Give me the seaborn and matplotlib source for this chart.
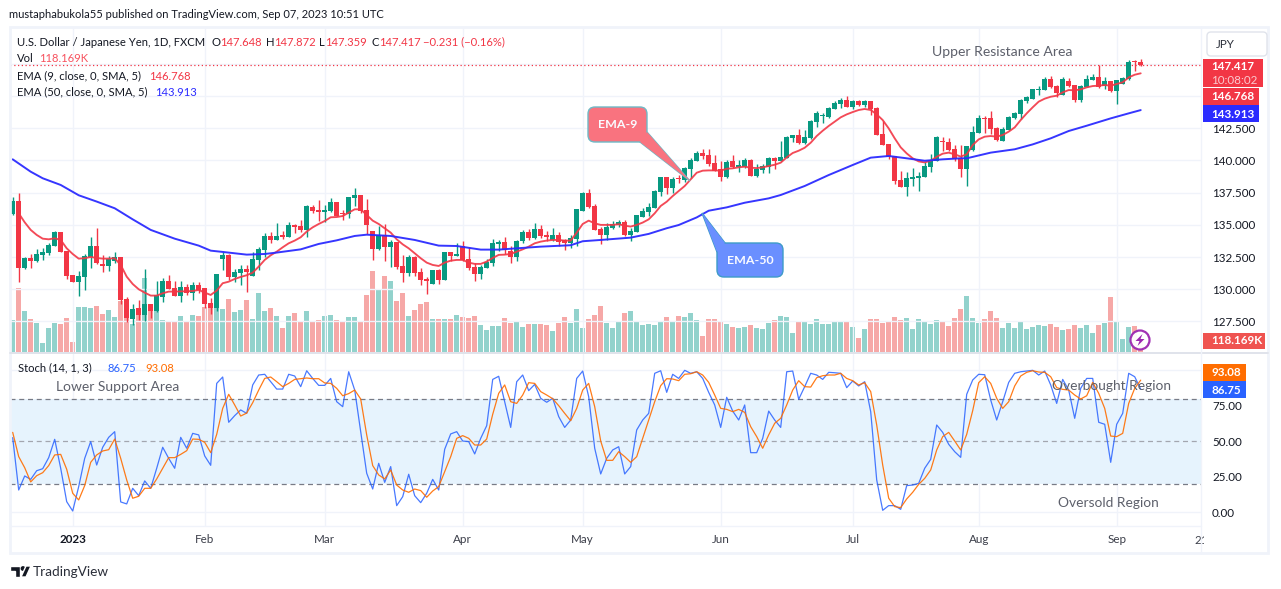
"""USD/JPY daily candles with EMA-9, EMA-50, volume and a stochastic pane."""

import numpy as np
import pandas as pd
import matplotlib
matplotlib.use('Agg')
import matplotlib.pyplot as plt
from matplotlib.patches import Circle, FancyBboxPatch, Polygon, Rectangle
import seaborn as sns

# OHLC, one value per daily bar
open_ = [
    135.87, 136.86, 131.68, 132.43, 132.22, 132.67, 132.82, 133.36, 134.45, 132.98,
    131.11, 130.57, 130.96, 132.54, 133.36, 131.97, 131.81, 132.20, 132.51, 129.25,
    127.70, 128.52, 128.01, 128.86, 128.32, 129.40, 130.65, 130.10, 129.48, 130.18,
    129.71, 130.34, 130.10, 128.94, 128.55, 132.35, 132.67, 130.96, 131.27, 131.58,
    131.03, 132.28, 133.05, 134.14, 133.83, 134.22, 134.06, 135.00, 134.92, 134.61,
    136.39, 136.16, 136.00, 136.08, 136.78, 135.93, 135.85, 137.09, 137.32, 136.16,
    134.53, 133.13, 134.22, 133.29, 133.67, 131.81, 131.27, 132.51, 131.35, 130.80,
    130.41, 131.50, 130.72, 132.90, 132.59, 133.36, 132.35, 131.73, 131.19, 131.66,
    132.04, 133.52, 133.67, 132.98, 132.51, 133.75, 134.45, 133.98, 134.68, 134.22,
    133.83, 134.22, 133.83, 133.60, 133.91, 136.08, 137.48, 136.47, 134.69, 134.22,
    134.76, 135.00, 135.23, 134.22, 134.45, 135.62, 136.00, 136.31, 137.56, 138.72,
    137.86, 138.64, 138.48, 139.34, 139.96, 140.58, 140.42, 139.80, 139.34, 138.72,
    139.96, 139.49, 139.49, 140.04, 138.79, 139.26, 139.49, 140.19, 139.96, 140.19,
    141.74, 141.98, 141.36, 141.74, 142.99, 143.45, 143.37, 144.00, 144.38, 144.69,
    144.15, 144.62, 144.31, 144.62, 144.07, 142.06, 141.28, 140.35, 138.48, 137.94,
    138.56, 138.64, 138.72, 139.49, 139.96, 141.51, 141.43, 140.86, 140.19, 139.34,
    140.81, 142.13, 143.30, 143.30, 142.52, 141.51, 142.37, 143.30, 143.61, 144.62,
    144.77, 145.47, 145.47, 146.33, 145.78, 145.08, 146.17, 145.86, 144.70, 145.70,
    146.25, 146.48, 145.78, 146.17, 145.39, 145.94, 146.33, 147.65, 147.648,
]
high = [
    137.17, 137.45, 132.48, 132.74, 133.13, 133.21, 133.60, 134.53, 134.45, 132.98,
    131.11, 131.42, 132.74, 134.06, 134.76, 132.67, 132.59, 132.90, 132.51, 129.40,
    128.86, 129.17, 131.58, 128.86, 130.65, 130.88, 131.11, 130.65, 130.65, 130.41,
    130.57, 130.57, 130.10, 129.33, 131.19, 132.90, 132.74, 131.58, 131.89, 131.89,
    132.90, 133.29, 134.37, 134.45, 135.15, 134.53, 135.23, 135.07, 135.38, 136.55,
    136.55, 136.93, 136.55, 137.09, 136.78, 136.16, 137.17, 137.87, 137.32, 137.01,
    134.53, 134.92, 135.07, 133.83, 133.67, 132.67, 132.67, 132.59, 131.66, 130.96,
    131.50, 131.58, 132.90, 132.90, 133.60, 133.75, 133.29, 132.04, 131.89, 132.35,
    133.91, 133.83, 134.06, 133.36, 133.83, 134.61, 134.68, 135.15, 134.99, 134.53,
    134.76, 134.45, 133.91, 134.22, 136.24, 137.56, 137.79, 136.62, 134.84, 135.15,
    135.30, 135.38, 135.38, 134.76, 135.77, 136.31, 136.70, 137.71, 138.72, 138.72,
    138.72, 138.87, 139.49, 140.19, 140.73, 140.89, 140.89, 140.42, 139.96, 140.04,
    140.42, 140.04, 140.19, 140.11, 139.73, 139.73, 140.27, 140.27, 141.51, 141.90,
    141.98, 142.44, 142.37, 143.14, 143.84, 143.69, 144.15, 144.62, 144.85, 145.00,
    144.69, 144.69, 144.69, 144.62, 144.15, 143.06, 141.28, 140.35, 139.18, 139.10,
    139.41, 139.10, 139.88, 140.50, 141.90, 141.82, 141.74, 141.20, 141.20, 141.12,
    142.68, 143.53, 143.45, 143.84, 142.60, 142.60, 143.45, 143.76, 144.77, 145.01,
    145.55, 145.78, 146.48, 146.56, 145.86, 146.48, 146.40, 145.86, 145.86, 146.64,
    146.71, 147.41, 146.48, 146.17, 146.25, 146.48, 147.80, 147.80, 147.872,
]
low = [
    135.80, 130.59, 131.55, 131.66, 132.12, 132.28, 132.67, 133.36, 132.90, 130.80,
    130.57, 129.48, 129.95, 131.66, 131.97, 131.35, 131.42, 132.04, 128.86, 127.46,
    127.23, 127.62, 127.54, 127.77, 128.24, 129.02, 130.03, 129.48, 129.02, 129.56,
    129.17, 129.71, 128.55, 128.09, 128.32, 131.50, 130.72, 130.57, 130.34, 129.79,
    131.03, 131.50, 132.51, 133.60, 133.83, 133.91, 134.06, 134.37, 134.45, 134.06,
    135.93, 135.30, 135.23, 136.00, 135.69, 135.38, 135.54, 136.47, 135.93, 134.30,
    132.28, 133.05, 132.20, 131.73, 131.58, 130.57, 131.03, 131.03, 130.34, 129.64,
    130.41, 130.41, 130.72, 132.20, 132.59, 132.20, 131.50, 130.65, 130.80, 131.66,
    131.81, 132.98, 132.74, 132.04, 132.20, 133.60, 133.83, 133.91, 133.98, 133.75,
    133.75, 133.36, 133.05, 133.21, 133.36, 136.08, 136.32, 134.61, 133.52, 133.83,
    134.68, 134.84, 134.14, 133.75, 134.45, 135.62, 135.69, 136.31, 137.25, 137.40,
    137.47, 138.25, 138.33, 138.64, 139.96, 140.11, 139.57, 139.18, 138.41, 138.64,
    139.41, 139.10, 139.41, 138.79, 138.72, 139.03, 139.03, 139.34, 139.96, 140.19,
    141.43, 141.28, 141.28, 141.67, 142.60, 142.91, 143.30, 144.00, 144.07, 144.15,
    144.00, 144.23, 144.15, 143.53, 141.98, 141.20, 140.11, 138.17, 137.94, 137.24,
    138.02, 137.63, 138.72, 139.10, 139.96, 140.73, 140.73, 139.98, 138.72, 138.02,
    140.74, 142.13, 142.13, 142.06, 141.51, 141.51, 142.37, 143.22, 143.22, 144.46,
    144.77, 145.08, 145.47, 145.63, 144.93, 145.08, 145.70, 144.54, 144.54, 145.70,
    146.25, 145.63, 145.55, 145.32, 144.38, 145.94, 146.25, 146.95, 147.359,
]
close = [
    136.86, 131.68, 132.43, 132.22, 132.74, 132.90, 133.44, 134.45, 132.90, 131.03,
    130.57, 131.03, 132.59, 133.36, 132.04, 131.81, 132.35, 132.51, 129.17, 127.77,
    128.47, 128.01, 128.86, 128.32, 129.56, 130.65, 130.03, 129.48, 130.18, 129.71,
    130.34, 129.95, 128.86, 128.55, 131.19, 132.67, 130.96, 131.35, 131.58, 131.35,
    132.35, 133.13, 134.14, 133.83, 134.14, 134.06, 135.00, 134.84, 134.61, 136.47,
    136.08, 136.00, 136.16, 136.78, 135.69, 135.85, 137.17, 137.32, 136.08, 135.00,
    133.13, 134.22, 133.29, 133.67, 131.73, 131.27, 132.51, 131.27, 130.72, 130.65,
    131.50, 130.72, 132.90, 132.59, 132.74, 132.28, 131.66, 131.19, 131.73, 132.12,
    133.60, 133.67, 133.05, 132.51, 133.75, 134.45, 133.98, 134.68, 134.14, 134.06,
    134.22, 133.67, 133.60, 133.98, 136.24, 137.48, 136.39, 134.61, 134.22, 134.84,
    135.07, 135.23, 134.22, 134.53, 135.77, 136.08, 136.39, 137.63, 138.72, 137.87,
    138.56, 138.56, 139.41, 140.04, 140.58, 140.35, 139.73, 139.18, 138.72, 139.88,
    139.49, 139.65, 140.04, 138.79, 139.34, 139.57, 140.19, 139.96, 140.27, 141.82,
    141.98, 141.36, 141.82, 143.06, 143.69, 143.53, 144.07, 144.46, 144.69, 144.15,
    144.62, 144.31, 144.62, 144.00, 141.98, 141.20, 140.27, 138.41, 137.94, 138.64,
    138.72, 138.79, 139.57, 140.04, 141.82, 141.43, 140.81, 140.14, 139.34, 141.12,
    142.21, 143.30, 143.22, 142.44, 141.59, 142.44, 143.37, 143.69, 144.70, 144.93,
    145.55, 145.55, 146.33, 145.70, 145.24, 146.33, 145.78, 144.70, 145.78, 146.33,
    146.48, 145.70, 146.17, 145.39, 146.25, 146.40, 147.65, 147.62, 147.417,
]
# the volume scale is hidden, these only keep the relative bar heights
volume = [
    147, 294, 189, 152, 133, 41, 110, 133, 129, 156,
    46, 207, 207, 202, 212, 175, 193, 161, 235, 163,
    129, 175, 340, 193, 189, 147, 143, 143, 166, 143,
    170, 166, 207, 207, 202, 198, 244, 184, 193, 239,
    152, 271, 189, 202, 166, 110, 166, 179, 138, 189,
    143, 147, 166, 170, 147, 138, 161, 161, 138, 262,
    373, 290, 350, 327, 235, 271, 166, 193, 221, 230,
    152, 152, 152, 152, 170, 161, 156, 166, 124, 101,
    120, 120, 156, 133, 143, 115, 129, 129, 129, 124,
    97, 133, 161, 133, 198, 110, 152, 170, 212, 133,
    110, 143, 179, 189, 138, 124, 129, 124, 138, 161,
    136, 164, 159, 178, 146, 72, 150, 150, 141, 127,
    113, 109, 113, 123, 109, 104, 132, 146, 164, 159,
    86, 141, 141, 127, 150, 127, 127, 141, 141, 141,
    113, 63, 104, 150, 150, 132, 136, 159, 146, 155,
    104, 150, 136, 127, 146, 136, 118, 155, 198, 258,
    156, 133, 152, 189, 156, 110, 133, 110, 138, 106,
    115, 124, 120, 129, 115, 101, 106, 124, 110, 124,
    87, 124, 133, 253, 143, 60, 115, 120, 48,
]
# EMA-9 starts one bar after the first candle
ema9 = [
    135.90, 135.20, 134.61, 134.22, 133.93, 133.88, 133.96, 133.83, 133.18, 132.74,
    132.38, 132.41, 132.51, 132.43, 132.38, 132.38, 132.41, 131.89, 130.98, 130.41,
    130.00, 129.74, 129.51, 129.51, 129.69, 129.82, 129.82, 129.84, 129.84, 129.87,
    129.95, 129.74, 129.56, 129.90, 130.47, 130.59, 130.80, 130.96, 131.09, 131.29,
    131.76, 132.28, 132.64, 132.92, 133.26, 133.57, 133.78, 134.04, 134.48, 134.81,
    135.07, 135.30, 135.59, 135.61, 135.69, 135.95, 136.21, 136.21, 135.77, 135.33,
    135.07, 134.73, 134.40, 133.88, 133.49, 133.18, 132.79, 132.41, 132.07, 131.89,
    131.81, 132.07, 132.22, 132.28, 132.28, 132.07, 131.97, 131.97, 132.15, 132.43,
    132.67, 132.69, 132.74, 132.92, 133.10, 133.31, 133.57, 133.70, 133.78, 133.83,
    133.83, 133.78, 133.78, 134.40, 135.07, 135.33, 135.12, 135.00, 135.00, 135.00,
    135.05, 134.94, 134.87, 135.00, 135.18, 135.43, 135.90, 136.47, 136.80, 137.24,
    137.63, 138.02, 138.54, 139.05, 139.21, 139.23, 139.23, 139.21, 139.36, 139.39,
    139.47, 139.52, 139.44, 139.41, 139.47, 139.57, 139.67, 139.83, 140.24, 140.58,
    140.76, 140.99, 141.38, 141.90, 142.31, 142.68, 143.01, 143.35, 143.58, 143.76,
    143.92, 144.00, 143.92, 143.58, 143.14, 142.49, 141.72, 141.02, 140.55, 140.17,
    139.93, 139.85, 139.98, 140.29, 140.53, 140.61, 140.48, 140.30, 140.48, 141.20,
    141.64, 141.85, 141.90, 141.85, 141.98, 142.24, 142.57, 143.14, 143.66, 144.13,
    144.57, 144.80, 144.95, 145.03, 145.29, 145.47, 145.45, 145.52, 145.68, 145.78,
    145.81, 145.86, 145.81, 145.94, 146.07, 146.45, 146.66, 146.768,
]
# EMA-50 is smooth enough to read at these bars only
ema50_bars = [
    0, 3, 5, 8, 11, 14, 17, 20, 23, 27, 31, 33, 35, 39, 42, 44, 48, 51, 54,
    57, 59, 63, 67, 71, 74, 78, 81, 84, 88, 93, 95, 98, 103, 106, 109,
    111, 114, 116, 119, 122, 126, 128, 132, 136, 140, 143, 146, 149, 152, 155, 158,
    159, 163, 167, 170, 173, 176, 179, 183, 186, 188,
]
ema50 = [
    140.09, 139.13, 138.62, 138.10, 137.30, 136.81, 136.29, 135.43, 134.61, 133.93,
    133.39, 133.00, 132.90, 132.69, 132.74, 132.85, 133.10, 133.52, 133.80,
    134.14, 134.24, 134.14, 133.83, 133.39, 133.36, 133.08, 133.08, 133.18, 133.31,
    133.42, 133.73, 133.83, 134.01, 134.30, 134.74,
    134.99, 135.58, 136.10, 136.36, 136.72, 137.06, 137.32, 138.02, 138.87, 139.65,
    140.22, 140.35, 140.17, 139.98, 140.09, 140.17,
    140.17, 140.61, 140.87, 141.25, 141.72, 142.29, 142.70, 143.27, 143.66, 143.913,
]
stoch_k = [
    52.6, 15.7, 25.6, 23.2, 29.3, 30.7, 38.5, 51.4, 31.0, 7.5,
    0.9, 18.1, 38.0, 49.8, 33.3, 45.8, 52.8, 56.8, 7.3, 5.9,
    16.9, 11.7, 22.1, 16.9, 31.0, 45.8, 38.0, 31.0, 52.8, 45.1,
    55.6, 54.5, 39.7, 33.1, 90.8, 95.3, 63.4, 68.1, 72.1, 69.7,
    89.7, 96.7, 97.2, 92.0, 86.8, 86.8, 97.2, 96.0, 88.5, 99.7,
    94.3, 89.4, 89.4, 94.3, 77.9, 74.4, 99.0, 86.1, 56.8, 27.5,
    16.4, 34.5, 21.1, 32.2, 4.7, 11.0, 26.8, 11.7, 6.8, 13.4,
    23.2, 15.7, 44.4, 55.2, 56.8, 50.2, 49.8, 41.1, 52.1, 61.0,
    93.6, 95.8, 77.9, 59.8, 92.0, 96.7, 85.7, 90.1, 80.3, 77.5,
    80.3, 67.4, 59.8, 65.0, 94.3, 99.5, 81.4, 45.1, 27.0, 38.0,
    43.9, 46.2, 27.0, 32.2, 58.0, 65.0, 69.7, 97.9, 99.7, 84.5,
    97.2, 94.3, 100.0, 97.9, 99.0, 94.3, 84.5, 75.6, 59.8, 81.0,
    71.3, 65.0, 75.6, 42.0, 42.0, 52.1, 71.3, 65.0, 59.8, 99.0,
    99.5, 79.6, 88.5, 97.9, 96.7, 93.6, 98.6, 98.3, 97.9, 87.8,
    92.5, 89.0, 92.0, 70.9, 22.8, 1.4, 4.7, 4.7, 2.1, 18.8,
    19.2, 20.4, 31.0, 37.3, 61.5, 56.3, 47.9, 42.7, 38.7, 83.1,
    93.2, 97.2, 96.9, 79.1, 65.0, 77.9, 91.5, 97.9, 99.0, 99.5,
    100.0, 96.7, 99.5, 89.7, 76.7, 93.6, 86.1, 66.2, 87.3, 94.3,
    94.3, 63.4, 62.0, 35.2, 62.0, 69.7, 97.9, 95.5, 86.75,
]
stoch_d = [
    56.3, 39.2, 31.4, 21.4, 25.8, 27.9, 32.9, 40.4, 40.8, 30.3,
    13.4, 8.7, 18.8, 35.2, 40.4, 43.2, 44.1, 51.6, 38.0, 22.8,
    9.9, 11.3, 16.9, 16.9, 23.5, 31.0, 38.5, 38.5, 40.8, 43.4,
    51.6, 51.4, 49.3, 42.0, 54.9, 73.2, 83.1, 75.6, 67.8, 69.9,
    77.2, 86.1, 94.3, 95.3, 92.0, 88.5, 90.8, 93.6, 94.1, 94.6,
    94.1, 94.1, 91.1, 90.8, 87.3, 82.1, 83.6, 86.1, 79.8, 54.5,
    32.9, 26.3, 23.5, 29.8, 19.2, 15.7, 14.1, 16.4, 15.3, 10.6,
    15.0, 18.1, 28.6, 39.2, 52.1, 54.0, 52.1, 47.4, 47.4, 51.6,
    69.0, 83.8, 89.7, 77.9, 76.7, 82.6, 91.3, 90.8, 85.0, 82.6,
    80.0, 75.1, 69.7, 64.5, 73.2, 86.1, 90.8, 74.4, 50.2, 36.6,
    36.6, 42.7, 39.2, 35.2, 39.2, 52.1, 65.0, 77.9, 89.2, 94.1,
    93.9, 92.7, 97.2, 97.6, 99.0, 96.7, 91.5, 82.6, 73.2, 72.5,
    70.9, 72.5, 70.4, 60.3, 53.3, 45.1, 54.5, 62.7, 66.2, 75.6,
    86.1, 92.7, 88.5, 88.2, 94.8, 96.2, 96.7, 96.7, 97.9, 94.3,
    92.7, 89.7, 91.3, 85.0, 61.5, 33.3, 9.9, 4.0, 3.3, 9.4,
    14.1, 19.7, 23.9, 29.8, 43.9, 53.3, 56.3, 50.2, 43.9, 54.9,
    71.6, 91.3, 95.5, 90.8, 80.3, 73.2, 77.9, 89.0, 96.0, 98.6,
    99.7, 98.8, 98.6, 95.5, 87.8, 86.6, 86.1, 82.6, 79.8, 82.1,
    91.5, 83.8, 73.2, 53.7, 53.3, 55.6, 76.7, 87.3, 93.08,
]
# month starts as bar numbers, and their labels
month_bars = [10, 32, 52, 75, 95, 118, 140, 161, 184]
month_labels = ['2023', 'Feb', 'Mar', 'Apr', 'May', 'Jun', 'Jul', 'Aug', 'Sep']
price_ticks = [127.5, 130, 132.5, 135, 137.5, 140, 142.5, 145, 147.5]
stoch_ticks = [0, 25, 50, 75, 100]

UP = '#089981'
DOWN = '#F23645'
GRID = '#F0F3FA'
TEXT = '#131722'
NOTE = '#5D606B'
W, H = 1281, 589
TICK_SIZE = 8.4

sns.set_theme(style='white')
plt.rcParams['font.family'] = ['Lato', 'DejaVu Sans']

fig = plt.figure(figsize=(W / 100, H / 100), dpi=100, facecolor='white')


def add_pane(left, top, right, bottom, zorder):
    ax = fig.add_axes([left / W, 1 - bottom / H, (right - left) / W, (bottom - top) / H], zorder=zorder)
    ax.set_xlim(-0.45, 198.05)
    for spine in ax.spines.values():
        spine.set_visible(False)
    return ax


bars = np.arange(len(close))
df = pd.DataFrame({'bar': bars, 'open': open_, 'high': high, 'low': low, 'close': close, 'volume': volume})
df['side'] = np.where(df['close'] < df['open'], 'down', 'up')

# volume sits behind the candles on its own hidden scale
ax_vol = add_pane(10, 27, 1201, 352, 1)
sns.barplot(data=df, x='bar', y='volume', hue='side', palette={'up': '#26A69A', 'down': '#EF5350'},
            native_scale=True, dodge=False, width=0.83, alpha=0.5, saturation=1, linewidth=0,
            legend=False, errorbar=None, ax=ax_vol)
ax_vol.set_xlim(-0.45, 198.05)
ax_vol.set_ylim(0, 1494)
ax_vol.set_xlabel('')
ax_vol.set_ylabel('')
ax_vol.set_xticks([])
ax_vol.set_yticks([])

# price pane
ax = add_pane(10, 27, 1201, 352, 2)
ax.patch.set_visible(False)
ax.set_ylim(125.13, 150.365)
colors = np.where(df['side'] == 'up', UP, DOWN)
ax.vlines(df['bar'], df['low'], df['high'], colors=colors, linewidth=1.0, zorder=3)
ax.bar(df['bar'], np.maximum((df['close'] - df['open']).abs(), 0.08), bottom=df[['open', 'close']].min(axis=1),
       width=0.8, color=colors, linewidth=0, zorder=4)
sns.lineplot(x=np.arange(1, len(ema9) + 1), y=ema9, color='#F23645', linewidth=1.35, alpha=0.9,
             errorbar=None, estimator=None, zorder=5, ax=ax)
sns.lineplot(x=ema50_bars, y=ema50, color='#2B2BFF', linewidth=1.4, alpha=0.95,
             errorbar=None, estimator=None, zorder=5, ax=ax)
ax.axhline(close[-1], color=DOWN, linestyle=(0, (1, 2)), linewidth=0.9, zorder=2)
ax.set_xticks(month_bars)
ax.set_xticklabels([])
ax.set_yticks(price_ticks)
ax.set_yticklabels([f'{t:.3f}' for t in price_ticks], fontsize=TICK_SIZE, color=TEXT)
ax.yaxis.tick_right()
ax.tick_params(length=0, pad=8)
ax.grid(True, color=GRID, linewidth=1)
ax.set_axisbelow(True)
ax.set_xlabel('')
ax.set_ylabel('')

# stochastic pane
ax_st = add_pane(10, 354, 1201, 526, 2)
ax_st.set_ylim(-9.65, 111.5)
ax_st.axhspan(20, 80, color='#E6F3FD', linewidth=0, zorder=1)
ax_st.axhline(80, color='#787B86', linestyle=(0, (4, 3)), linewidth=0.9, zorder=2)
ax_st.axhline(50, color='#A3A6AF', linestyle=(0, (4, 3)), linewidth=0.9, zorder=2)
ax_st.axhline(20, color='#787B86', linestyle=(0, (4, 3)), linewidth=0.9, zorder=2)
sns.lineplot(x=bars, y=stoch_k, color='#2962FF', linewidth=0.9, alpha=0.85, errorbar=None, estimator=None,
             zorder=3, ax=ax_st)
sns.lineplot(x=bars, y=stoch_d, color='#FF6D00', linewidth=0.9, alpha=0.9, errorbar=None, estimator=None,
             zorder=4, ax=ax_st)
ax_st.set_xticks(month_bars)
ax_st.set_xticklabels(month_labels, fontsize=TICK_SIZE, color='#3C3F4A')
ax_st.get_xticklabels()[0].set_fontweight('bold')
ax_st.get_xticklabels()[0].set_color(TEXT)
ax_st.set_yticks(stoch_ticks)
ax_st.set_yticklabels(['0.00', '25.00', '50.00', '75.00', ''], fontsize=TICK_SIZE, color=TEXT)
ax_st.yaxis.tick_right()
ax_st.tick_params(axis='y', length=0, pad=8)
ax_st.tick_params(axis='x', length=0, pad=6)
ax_st.grid(True, color=GRID, linewidth=1)
ax_st.set_axisbelow(True)
ax_st.set_xlabel('')
ax_st.set_ylabel('')

# everything drawn in picture pixels goes on a transparent overlay
ov = fig.add_axes([0, 0, 1, 1], zorder=10)
ov.set_xlim(0, W)
ov.set_ylim(H, 0)
ov.axis('off')


def label(x, y, s, color=TEXT, size=8.15, ha='left', **kw):
    ov.text(x, y, s, color=color, fontsize=size, ha=ha, va='center', **kw)


def tag(x0, y0, x1, y1, color):
    ov.add_patch(Rectangle((x0, y0), x1 - x0, y1 - y0, facecolor=color, edgecolor='none', zorder=3))


def callout(x0, y0, x1, y1, pointer, fill, edge, text):
    ov.add_patch(Polygon(pointer, closed=True, facecolor=fill, edgecolor=edge, linewidth=1, zorder=2))
    ov.add_patch(FancyBboxPatch((x0 + 7, y0 + 7), x1 - x0 - 14, y1 - y0 - 14, boxstyle='round,pad=7,rounding_size=7',
                                facecolor=fill, edgecolor=edge, linewidth=1, zorder=3))
    ov.add_patch(Polygon(pointer, closed=True, facecolor=fill, edgecolor='none', zorder=4))
    label((x0 + x1) / 2, (y0 + y1) / 2, text, color='#FAFBFF', size=8.9, ha='center', fontweight='bold', zorder=5)


# frame and pane separators
ov.add_patch(Rectangle((10, 26.5), 1258, 526.5, facecolor='none', edgecolor=GRID, linewidth=2))
ov.plot([10, 1268], [353, 353], color='#E0E3EB', linewidth=1.4)
ov.plot([10, 1201], [526, 526], color=GRID, linewidth=1)
ov.plot([1201, 1201], [27, 553], color=GRID, linewidth=1)
label(1194, 540, '21', color='#3C3F4A', size=TICK_SIZE, zorder=1)
ov.add_patch(Rectangle((1204, 530), 30, 20, facecolor='white', edgecolor='none', zorder=2))

# header and legend
label(9, 15, 'mustaphabukola55 published on TradingView.com, Sep 07, 2023 10:51 UTC', size=8.0)
label(17, 42, 'U.S. Dollar / Japanese Yen, 1D, FXCM')
for x, name, value in [(212, 'O', '147.648'), (266, 'H', '147.872'), (319, 'L', '147.359'), (371, 'C', '147.417')]:
    label(x, 42, name)
    label(x + (6 if name == 'L' else 8), 42, value, color=DOWN)
label(423, 42, '\u22120.231 (\u22120.16%)', color=DOWN)
label(17, 59, 'Vol')
label(39, 59, '118.169K', color='#F7525F')
label(17, 76, 'EMA (9, close, 0, SMA, 5)')
label(149, 76, '146.768', color=DOWN)
label(17, 92, 'EMA (50, close, 0, SMA, 5)')
label(155, 92, '143.913', color='#2B2BFF')
label(18, 368, 'Stoch (14, 1, 3)')
label(108, 368, '86.75', color='#2962FF')
label(145, 368, '93.08', color='#FF6D00')

# notes written on the chart
label(932, 52, 'Upper Resistance Area', color=NOTE, size=10.1)
label(56, 387, 'Lower Support Area', color=NOTE, size=10.0)
label(1052, 386, 'Overbought Region', color=NOTE, size=9.9)
label(1058, 503, 'Oversold Region', color=NOTE, size=9.9)

# callouts pointing at the two averages
callout(588, 107, 647, 142, [(640, 142), (647, 132), (690, 181)], '#F9737F', '#6FB9C6', 'EMA-9')
callout(717, 243, 783, 277, [(717, 252), (725, 243), (702, 213)], '#6A8FFF', '#3D9BC8', 'EMA-50')

# price axis tags
ov.add_patch(FancyBboxPatch((1209, 34), 56, 20, boxstyle='round,pad=2,rounding_size=4', facecolor='white',
                            edgecolor='#E0E3EB', linewidth=1))
label(1216, 44, 'JPY', color='#2A2E39', size=TICK_SIZE)
tag(1203, 59, 1263, 87, DOWN)
label(1211, 66, '147.417', color='white', size=TICK_SIZE, fontweight='bold', zorder=4)
label(1211, 80, '10:08:02', color='#FBC9CE', size=TICK_SIZE, zorder=4)
tag(1203, 88, 1259, 105, DOWN)
label(1211, 97, '146.768', color='white', size=TICK_SIZE, fontweight='bold', zorder=4)
tag(1203, 105, 1259, 122, '#2B2BFF')
label(1211, 114, '143.913', color='white', size=TICK_SIZE, fontweight='bold', zorder=4)
tag(1203, 333, 1265, 349, '#EF5350')
label(1211, 341, '118.169K', color='white', size=TICK_SIZE, fontweight='bold', zorder=4)
tag(1203, 364, 1246, 381, '#FF6D00')
label(1211, 372, '93.08', color='white', size=TICK_SIZE, fontweight='bold', zorder=4)
tag(1203, 381, 1246, 398, '#2962FF')
label(1211, 390, '86.75', color='white', size=TICK_SIZE, fontweight='bold', zorder=4)

# lightning badge over the last volume bars
ov.add_patch(Circle((1140, 340), 9.5, facecolor='white', edgecolor='#9C27B0', linewidth=1.6, alpha=0.95, zorder=3))
ov.add_patch(Polygon([(1142.5, 334), (1135.5, 341), (1139.5, 341), (1137.5, 346), (1144.5, 339), (1140.5, 339)],
                     closed=True, facecolor='#9C27B0', edgecolor='none', zorder=4))

# TradingView mark under the chart
ov.add_patch(Polygon([(10, 566), (20, 566), (20, 577), (15, 577), (15, 571), (10, 571)], closed=True, facecolor=TEXT))
ov.add_patch(Circle((23, 568.5), 2.4, facecolor=TEXT, edgecolor='none'))
ov.add_patch(Polygon([(26, 566), (31, 566), (26, 577), (21, 577)], closed=True, facecolor=TEXT))
label(33, 572, 'TradingView', color='#2A2E39', size=9.8)

fig.savefig('out.png', dpi=100)
plt.close(fig)
